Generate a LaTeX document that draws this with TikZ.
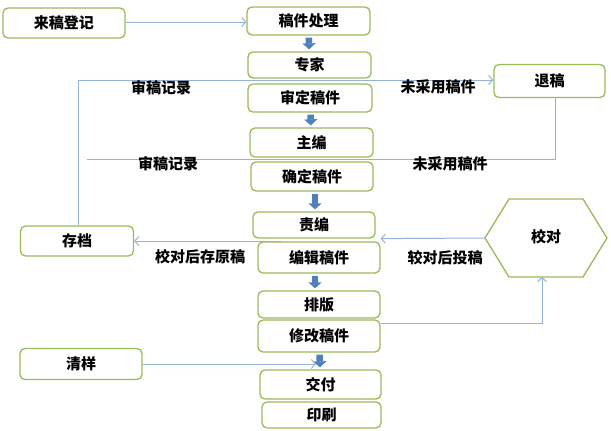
\documentclass[tikz,border=0pt]{standalone}
\usepackage{fontspec}
\newfontfamily\cjk{Noto Sans CJK SC}
\usetikzlibrary{arrows.meta}
\definecolor{boxgreen}{HTML}{9BBB59}
\definecolor{flowblue}{HTML}{4F81BD}
\definecolor{linkblue}{HTML}{95B3D7}
\tikzset{
  stage/.style={draw=boxgreen, line width=1.3pt, rounded corners=5pt, fill=white, inner sep=0pt,
    font={\cjk\bfseries\fontsize{15}{17}\selectfont}},
  tag/.style={inner sep=0pt, font={\cjk\bfseries\fontsize{15}{17}\selectfont}},
  flow/.style={draw=flowblue, line width=6.5pt, -{Triangle[width=13pt,length=6pt]},
    shorten <=2pt, shorten >=2pt},
  link/.style={draw=linkblue, line width=1pt},
  tip/.style={-{Straight Barb[length=4pt,width=9pt]}}
}

\begin{document}
\begin{tikzpicture}[x=1pt,y=-1pt]
\useasboundingbox (0,0) rectangle (611,431);
% main column
\node [stage, minimum width=123pt, minimum height=28pt] (chuli) at (308.5,21) {稿件处理};
\node [stage, minimum width=123pt, minimum height=26pt] (zhuanjia) at (309.5,65) {专家};
\node [stage, minimum width=124pt, minimum height=28pt] (shending) at (310,98) {审定稿件};
\node [stage, minimum width=123pt, minimum height=29pt] (zhubian) at (311.5,142.5) {主编};
\node [stage, minimum width=122pt, minimum height=29pt] (queding) at (312,176.5) {确定稿件};
\node [stage, minimum width=122pt, minimum height=26pt] (zebian) at (314,225) {责编};
\node [stage, minimum width=122pt, minimum height=31pt] (bianji) at (319,257.5) {编辑稿件};
\node [stage, minimum width=122pt, minimum height=27pt] (paiban) at (319,304.5) {排版};
\node [stage, minimum width=122pt, minimum height=32pt] (xiugai) at (319,336) {修改稿件};
\node [stage, minimum width=121pt, minimum height=29pt] (jiaofu) at (320.5,384.5) {交付};
\node [stage, minimum width=119pt, minimum height=26pt] (yinshua) at (321.5,415) {印刷};
% side boxes
\node [stage, minimum width=122pt, minimum height=30pt] (laigao) at (64,23) {来稿登记};
\node [stage, minimum width=113pt, minimum height=30pt] (cundang) at (77,241) {存档};
\node [stage, minimum width=122pt, minimum height=31pt] (qingyang) at (81,364) {清样};
\node [stage, minimum width=111pt, minimum height=33pt] (tuigao) at (549.5,81) {退稿};
% hexagon
\draw [boxgreen, line width=1.3pt] (485,238) -- (509,199) -- (583,199) -- (607,238)
  -- (583,277) -- (509,277) -- cycle;
\node [tag] (jiaodui) at (546,237) {校对};
\coordinate (jd-w) at (485,238);
\coordinate (jd-s) at (542,277);
% thick arrows
\draw [flow] (chuli) -- (zhuanjia);
\draw [flow] (shending) -- (zhubian);
\draw [flow] (queding.south -| 315,0) -- (zebian.north -| 315,0);
\draw [flow] (bianji.south -| 315,0) -- (paiban.north -| 315,0);
\draw [flow] (xiugai) -- (jiaofu);
% thin connectors
\coordinate (topline) at (78,80);
\coordinate (lowline) at (87,159);
\coordinate (keep) at (282,241);
\draw [link, tip] (laigao.east |- 0,22) -- (chuli.west |- 0,22);
\draw [link, tip] (cundang.north -| topline) -- (topline) -- (topline -| tuigao.west);
\draw [link] ([xshift=5.5pt]tuigao.south) |- (lowline);
\draw [link, tip] (jd-w) -- (zebian.south -| bianji.east);
\draw [link, tip] (keep) -- (cundang.east);
\draw [link, tip] ([yshift=13pt]xiugai.east) -| (jd-s);
\draw [link, tip] (qingyang.east) -- (qingyang.east -| 316,0);
% labels
\node [tag] (rec1) at (161,87.5) {审稿记录};
\node [tag] (rej1) at (438,86.5) {未采用稿件};
\node [tag] (rec2) at (168,163.5) {审稿记录};
\node [tag] (rej2) at (450,163.5) {未采用稿件};
\node [tag] (back) at (445,258) {较对后投稿};
\node [tag] (orig) at (200,257) {校对后存原稿};
\end{tikzpicture}
\end{document}
